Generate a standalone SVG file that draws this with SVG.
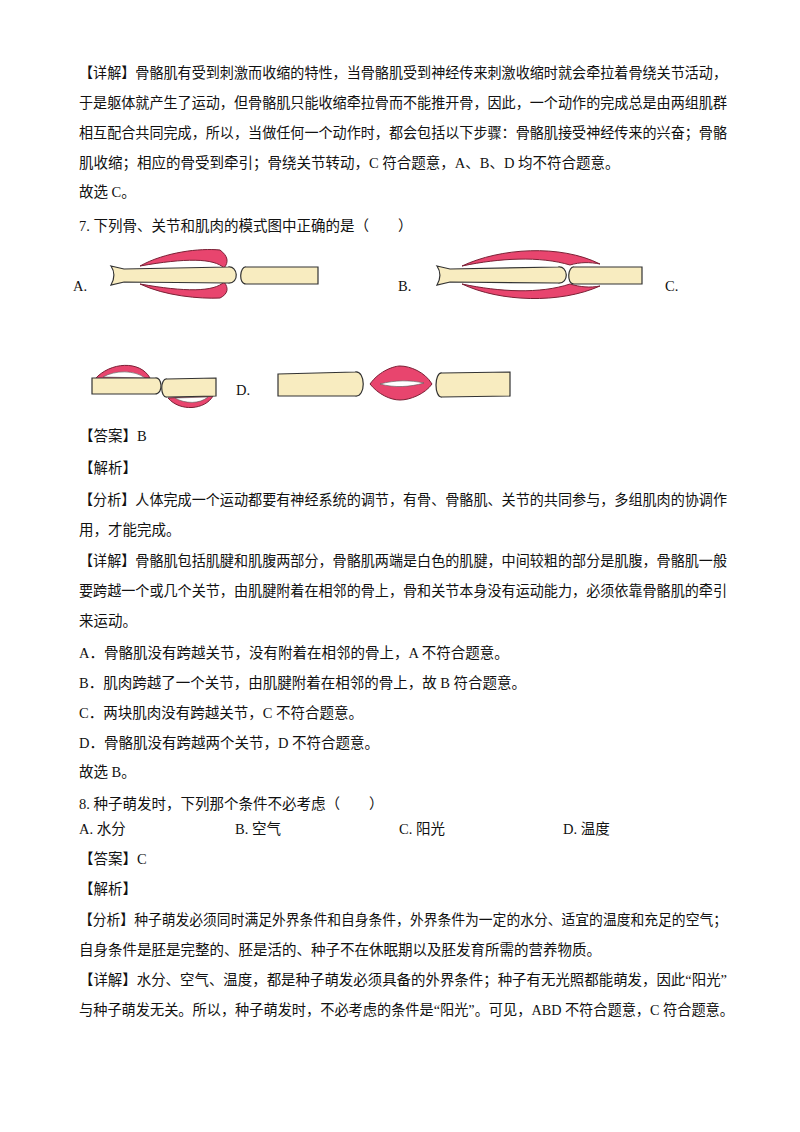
<svg xmlns="http://www.w3.org/2000/svg" width="800" height="1132" viewBox="0 0 800 1132">
<style>
text{font-family:"Liberation Serif","Noto Sans CJK SC",serif;font-size:14.5px;fill:#111}
.bone{fill:#f8ecc0;stroke:#333;stroke-width:1.2}
.mus{fill:#e8456e;stroke:#7a2035;stroke-width:1}
.inner{fill:#fff;stroke:#555;stroke-width:0.6}
</style>
<rect width="800" height="1132" fill="#fff"/>
<g id="text">
<text x="79" y="78" textLength="648" lengthAdjust="spacingAndGlyphs">【详解】骨骼肌有受到刺激而收缩的特性，当骨骼肌受到神经传来刺激收缩时就会牵拉着骨绕关节活动，</text>
<text x="79" y="108" textLength="648" lengthAdjust="spacingAndGlyphs">于是躯体就产生了运动，但骨骼肌只能收缩牵拉骨而不能推开骨，因此，一个动作的完成总是由两组肌群</text>
<text x="79" y="138" textLength="648" lengthAdjust="spacingAndGlyphs">相互配合共同完成，所以，当做任何一个动作时，都会包括以下步骤：骨骼肌接受神经传来的兴奋；骨骼</text>
<text x="79" y="168">肌收缩；相应的骨受到牵引；骨绕关节转动，C 符合题意，A、B、D 均不符合题意。</text>
<text x="79" y="197">故选 C。</text>
<text x="79" y="231">7. 下列骨、关节和肌肉的模式图中正确的是（　　）</text>
<text x="73" y="291">A.</text>
<text x="398" y="291">B.</text>
<text x="665" y="291">C.</text>
<text x="236" y="395">D.</text>
<text x="79" y="441">【答案】B</text>
<text x="79" y="473">【解析】</text>
<text x="79" y="505" textLength="648" lengthAdjust="spacingAndGlyphs">【分析】人体完成一个运动都要有神经系统的调节，有骨、骨骼肌、关节的共同参与，多组肌肉的协调作</text>
<text x="79" y="535">用，才能完成。</text>
<text x="79" y="566" textLength="648" lengthAdjust="spacingAndGlyphs">【详解】骨骼肌包括肌腱和肌腹两部分，骨骼肌两端是白色的肌腱，中间较粗的部分是肌腹，骨骼肌一般</text>
<text x="79" y="596" textLength="648" lengthAdjust="spacingAndGlyphs">要跨越一个或几个关节，由肌腱附着在相邻的骨上，骨和关节本身没有运动能力，必须依靠骨骼肌的牵引</text>
<text x="79" y="626">来运动。</text>
<text x="79" y="658">A．骨骼肌没有跨越关节，没有附着在相邻的骨上，A 不符合题意。</text>
<text x="79" y="688">B．肌肉跨越了一个关节，由肌腱附着在相邻的骨上，故 B 符合题意。</text>
<text x="79" y="718">C．两块肌肉没有跨越关节，C 不符合题意。</text>
<text x="79" y="748">D．骨骼肌没有跨越两个关节，D 不符合题意。</text>
<text x="79" y="777">故选 B。</text>
<text x="79" y="809">8. 种子萌发时，下列那个条件不必考虑（　　）</text>
<text x="79" y="834">A. 水分</text>
<text x="235" y="834">B. 空气</text>
<text x="399" y="834">C. 阳光</text>
<text x="563" y="834">D. 温度</text>
<text x="79" y="864">【答案】C</text>
<text x="79" y="894">【解析】</text>
<text x="79" y="925" textLength="648" lengthAdjust="spacingAndGlyphs">【分析】种子萌发必须同时满足外界条件和自身条件，外界条件为一定的水分、适宜的温度和充足的空气；</text>
<text x="79" y="955">自身条件是胚是完整的、胚是活的、种子不在休眠期以及胚发育所需的营养物质。</text>
<text x="79" y="985" textLength="648" lengthAdjust="spacingAndGlyphs">【详解】水分、空气、温度，都是种子萌发必须具备的外界条件；种子有无光照都能萌发，因此“阳光”</text>
<text x="79" y="1015" textLength="655" lengthAdjust="spacingAndGlyphs">与种子萌发无关。所以，种子萌发时，不必考虑的条件是“阳光”。可见，ABD 不符合题意，C 符合题意。</text>
</g>
<g id="figA">
<path class="mus" d="M140,266 C165,252 200,248 220,250 C228,256 229,262 224,268 C214,258 185,258 140,266Z"/>
<path class="mus" d="M140,284 C185,292 214,292 224,282 C229,288 228,294 220,298 C200,299 165,296 140,284Z"/>
<path class="bone" d="M111,266 L124,269 L228,267 C238,265 240,284 228,283 L124,282 L111,285 C115,278 115,272 111,266Z"/>
<path class="bone" d="M318,267 L246,267 C240,266 238,284 246,284 L318,284Z"/>
</g>
<g id="figB">
<path class="mus" d="M462,266 C500,248 560,244 600,264 C590,262 580,262 570,265 C540,256 500,258 462,266Z"/>
<path class="mus" d="M462,284 C500,292 540,294 570,284 C580,287 590,288 600,286 C560,304 500,302 462,284Z"/>
<path class="bone" d="M437,266 L450,269 L558,267 C568,265 570,284 558,283 L450,282 L437,285 C441,278 441,272 437,266Z"/>
<path class="bone" d="M642,267 L574,267 C568,266 566,284 574,284 L642,284Z"/>
</g>
<g id="figC">
<path class="mus" d="M95,379 C110,362 140,360 150,378 Z"/>
<path class="inner" d="M103,377 C115,370 135,370 145,378Z"/>
<path class="mus" d="M168,398 C180,412 205,410 213,396 Z"/>
<path class="inner" d="M175,398 C185,404 200,404 208,397Z"/>
<path class="bone" d="M92,378 L155,378 C162,376 164,394 155,394 L92,394Z"/>
<path class="bone" d="M216,378 L167,379 C160,378 160,398 167,397 L216,396Z"/>
</g>
<g id="figD">
<path class="bone" d="M278,374 L355,372 C366,370 366,398 355,396 L278,396Z"/>
<path class="mus" d="M370,384 C380,370 395,366 400,366 C410,366 425,372 432,384 C425,394 410,400 400,400 C390,400 378,394 370,384Z"/>
<path class="inner" d="M380,384 C395,380 410,380 424,383 C410,387 395,388 380,384Z"/>
<path class="bone" d="M510,372 L442,373 C434,372 434,398 442,397 L510,396Z"/>
</g>
</svg>
